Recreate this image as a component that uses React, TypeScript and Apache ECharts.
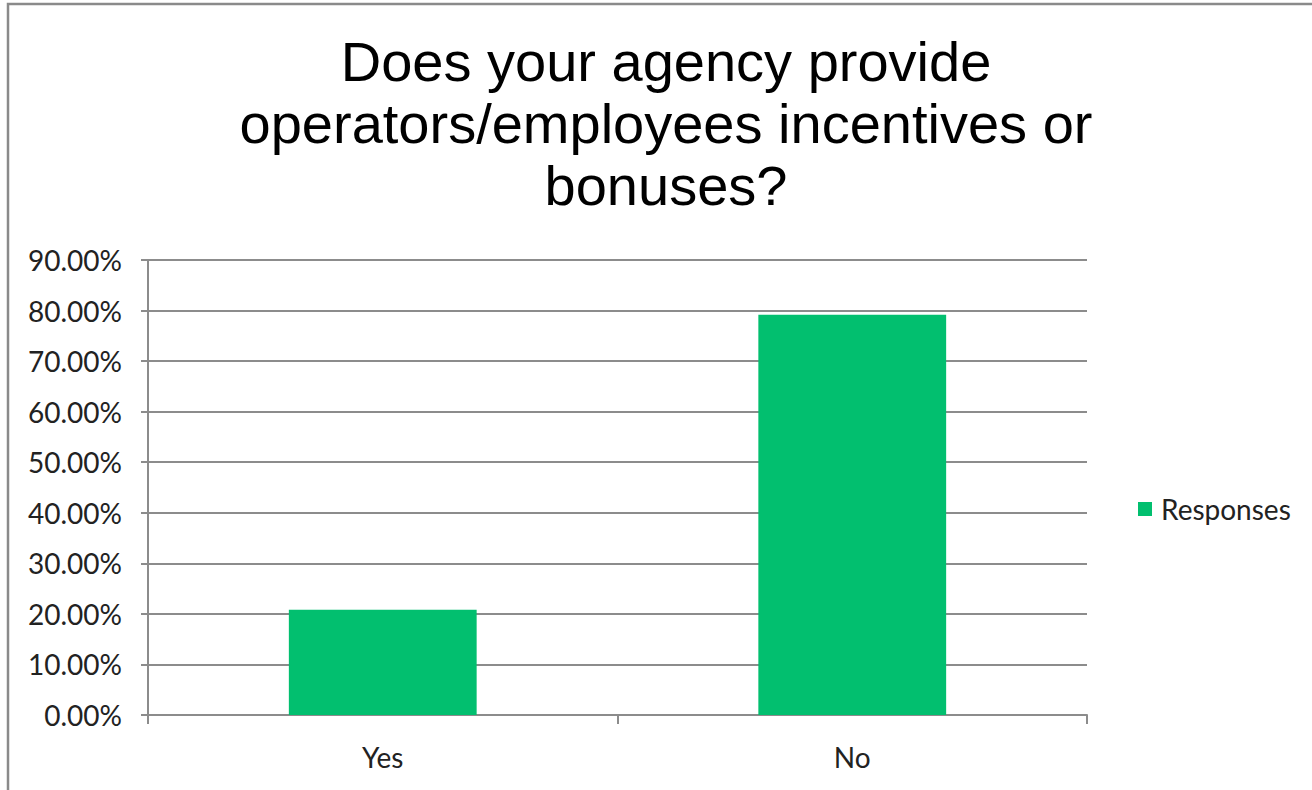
import React, { useEffect, useRef } from "react";
import * as echarts from "echarts";

const categories = ["Yes", "No"];
const responses = [20.83, 79.17];
const seriesName = "Responses";
const titleText = "Does your agency provide\noperators/employees incentives or\nbonuses?";

export default function App() {
  const ref = useRef<HTMLDivElement>(null);
  useEffect(() => {
    const chart = echarts.init(ref.current!, null, { renderer: "svg" });
    const labelFont = "Lato, Open Sans, sans-serif";
    chart.setOption({
      animation: false,
      backgroundColor: "#ffffff",
      title: {
        text: titleText,
        left: 666,
        textAlign: "center",
        top: 30,
        padding: 0,
        textStyle: {
          fontFamily: "Liberation Sans, Arial, sans-serif",
          fontSize: 56,
          fontWeight: "normal",
          color: "#000000",
          lineHeight: 62,
        },
      },
      graphic: [
        {
          type: "rect",
          shape: { x: 8, y: 4, width: 1320, height: 800 },
          style: { fill: "none", stroke: "#8a8a8a", lineWidth: 2.5 },
          silent: true,
        },
      ],
      legend: {
        data: [seriesName],
        left: 1133,
        top: 490,
        icon: "rect",
        itemWidth: 14,
        itemHeight: 14,
        itemGap: 8,
        textStyle: { fontFamily: labelFont, fontSize: 28, color: "#222", padding: [0, 0, 0, 4] },
      },
      grid: { left: 148, right: 225, top: 260, bottom: 75, containLabel: false },
      xAxis: {
        type: "category",
        data: categories,
        axisLine: { show: true, lineStyle: { color: "#8c8c8c", width: 2 } },
        axisTick: { show: true, length: 9, lineStyle: { color: "#8c8c8c", width: 2 } },
        axisLabel: { margin: 28, fontFamily: labelFont, fontSize: 28, color: "#222" },
      },
      yAxis: {
        type: "value",
        min: 0,
        max: 90,
        interval: 10,
        axisLine: { show: true, lineStyle: { color: "#8c8c8c", width: 2 } },
        axisTick: { show: true, length: 7, lineStyle: { color: "#8c8c8c", width: 2 } },
        splitLine: { show: true, lineStyle: { color: "#8c8c8c", width: 2 } },
        axisLabel: {
          margin: 26,
          fontFamily: labelFont,
          fontSize: 28,
          color: "#222",
          formatter: (v: number) => v.toFixed(2) + "%",
        },
      },
      series: [
        {
          name: seriesName,
          type: "bar",
          data: responses,
          barWidth: "40%",
          itemStyle: { color: "#02bf6f" },
        },
      ],
    });
    return () => chart.dispose();
  }, []);
  return <div ref={ref} style={{ width: 1312, height: 790, position: "absolute", left: 0, top: 0 }} />;
}
